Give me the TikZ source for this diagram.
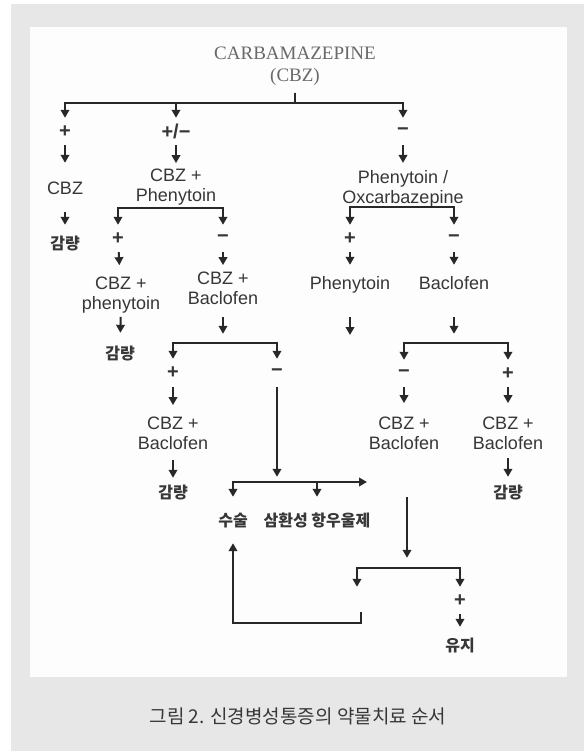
\documentclass[tikz,border=0pt]{standalone}
\usepackage{fontspec}
\usepackage{xcolor}
\usepackage{tikz}
\usetikzlibrary{arrows.meta,positioning}
\setmainfont{Liberation Sans}
\newfontfamily\serifttl{Liberation Serif}
\newfontfamily\krf{Noto Sans CJK KR}
\definecolor{bggray}{RGB}{230,231,230}
\definecolor{panelwhite}{RGB}{253,253,253}
\definecolor{txtgray}{RGB}{55,55,55}
\definecolor{ttlgray}{RGB}{105,105,105}
\definecolor{linegray}{RGB}{40,40,40}
\newcommand{\latfont}{\fontsize{18pt}{20pt}\selectfont}
\newcommand{\sgnfont}{\fontsize{20pt}{20pt}\selectfont\bfseries}
\newcommand{\krfont}{\krf\fontsize{16pt}{18pt}\selectfont\bfseries}
\newcommand{\ttlfont}{\serifttl\fontsize{19pt}{22pt}\selectfont}
\newcommand{\capfont}{\krf\fontsize{19pt}{21pt}\selectfont}

\begin{document}
\begin{tikzpicture}[x=1pt, y=1pt,
    lbl/.style={inner sep=0pt, text height=13pt, text depth=4pt, font=\latfont, text=txtgray},
    lbltwo/.style={inner sep=0pt, align=center, font=\latfont, text=txtgray},
    sgn/.style={inner sep=0pt, minimum height=27pt, font=\sgnfont, text=txtgray},
    krl/.style={inner sep=0pt, text height=13pt, text depth=3pt, font=\krfont, text=txtgray},
    jn/.style={inner sep=0pt, minimum size=0pt},
    arr/.style={-{Triangle[length=8pt,width=8.5pt]}, line width=2pt, draw=linegray},
    gaps/.style 2 args={shorten <=#1, shorten >=#2}
]
\useasboundingbox (0,0) rectangle (584,-751);
\fill[bggray] (11,-4) rectangle (584,-751);
\fill[panelwhite] (30,-27) rectangle (567,-677);

% top
\node[font=\ttlfont, text=ttlgray, align=center, inner sep=0pt] (title) at (295,-66) {CARBAMAZEPINE\\(CBZ)};
\node[sgn] (s1) at (65,-131.5) {+};
\node[sgn] (s2) at (176,-131.5) {+/−};
\node[sgn] (s3) at (403,-131.5) {−};
\foreach \t in {s1,s2,s3}
    \draw[arr] (title.south) ++(0,-7) -- ++(0,-10) -| (\t);

\node[lbl] (n1) at (65,-190) {CBZ};
\node[lbltwo] (n2) at (176,-186.8) {CBZ +\\Phenytoin};
\node[lbltwo] (n3) at (403,-188.8) {Phenytoin /\\Oxcarbazepine};
\draw[arr, gaps={0pt}{18.5pt}] (s1) -- (n1);
\draw[arr, gaps={0pt}{5.3pt}] (s2) -- (n2);
\draw[arr, gaps={0pt}{7.3pt}] (s3) -- (n3);

\node[krl] (k1) at (65,-244) {감량};
\draw[arr, gaps={13.5pt}{11pt}] (n1) -- (k1);

% left branch
\node[sgn] (s4) at (118,-238.5) {+};
\node[sgn] (s5) at (223,-238.5) {−};
\draw[arr] (n2.south) ++(0,-3) -| (s4);
\draw[arr] (n2.south) ++(0,-3) -| (s5);
\node[lbltwo] (n4) at (121,-295.1) {CBZ +\\phenytoin};
\node[lbltwo] (n5) at (223,-288) {CBZ +\\Baclofen};
\draw[arr, gaps={0pt}{11.6pt}] (s4) -- (n4);
\draw[arr, gaps={0pt}{6.3pt}] (s5) -- (n5);
\node[krl] (k2) at (120,-354) {감량};
\draw[arr, gaps={3.4pt}{13pt}] (n4) -- (k2);

\node[jn] (j1) at (223,-343) {};
\draw[arr, gaps={12.2pt}{9pt}] (n5) -- (j1);
\node[sgn] (s8) at (173,-372.5) {+};
\node[sgn] (s9) at (277,-372.5) {−};
\draw[arr] (j1.center) -| (s8);
\draw[arr] (j1.center) -| (s9);
\node[lbltwo] (n6) at (173,-433) {CBZ +\\Baclofen};
\draw[arr, gaps={1pt}{11.3pt}] (s8) -- (n6);
\node[krl] (k3) at (173,-493) {감량};
\draw[arr, gaps={10.2pt}{7pt}] (n6) -- (k3);

\node[jn] (j2) at (277,-482) {};
\coordinate (c2) at (367,-482);
\draw[arr, gaps={1pt}{5pt}] (s9) -- (j2);
\node[krl] (k4) at (233,-521) {수술};
\node[krl] (k5) at (317,-521) {삼환성 항우울제};
\draw[arr, gaps={0pt}{16pt}] (j2.center) -| (k4);
\draw[arr, gaps={0pt}{16pt}] (j2.center) -| (k5);
\draw[arr] (j2.center) -- (c2);

% right branch
\node[sgn] (s6) at (350,-238.5) {+};
\node[sgn] (s7) at (454,-238.5) {−};
\draw[arr] (n3.south) -| (s6);
\draw[arr] (n3.south) -| (s7);
\node[lbl] (n7) at (350,-285) {Phenytoin};
\node[lbl] (n8) at (454,-285) {Baclofen};
\draw[arr, gaps={0pt}{11.5pt}] (s6) -- (n7);
\draw[arr, gaps={0pt}{11.5pt}] (s7) -- (n8);
\coordinate (c7) at (350,-335);
\draw[arr, gaps={23.5pt}{0pt}] (n7) -- (c7);

\node[jn] (j4) at (454,-343) {};
\draw[arr, gaps={23.5pt}{9pt}] (n8) -- (j4);
\node[sgn] (s10) at (404,-373.5) {−};
\node[sgn] (s11) at (508,-373.5) {+};
\draw[arr] (j4.center) -| (s10);
\draw[arr] (j4.center) -| (s11);
\node[lbltwo] (n9) at (404,-433) {CBZ +\\Baclofen};
\node[lbltwo] (n10) at (508,-433) {CBZ +\\Baclofen};
\draw[arr, gaps={0pt}{13.3pt}] (s10) -- (n9);
\draw[arr, gaps={0pt}{13.3pt}] (s11) -- (n10);
\node[krl] (k6) at (508,-493) {감량};
\draw[arr, gaps={8.2pt}{8pt}] (n10) -- (k6);

% bottom
\node[jn] (j5) at (407,-568) {};
\draw[arr, gaps={47.2pt}{10pt}] ([xshift=3pt]n9.south) -- (j5);
\node[sgn] (s12) at (460,-600.5) {+};
\node[sgn] (s13) at (357,-600.5) {};
\draw[arr] (j5.center) -| (s13);
\draw[arr] (j5.center) -| (s12);
\node[krl] (k7) at (460,-646) {유지};
\draw[arr, gaps={0pt}{11pt}] (s12) -- (k7);
\draw[arr, gaps={0pt}{14pt}] ([xshift=4pt,yshift=2pt]s13.south) -- ++(0,-11) -| (k4);

\node[font=\capfont, text=txtgray] (cap) at (298,-716) {그림 2. 신경병성통증의 약물치료 순서};
\end{tikzpicture}
\end{document}
